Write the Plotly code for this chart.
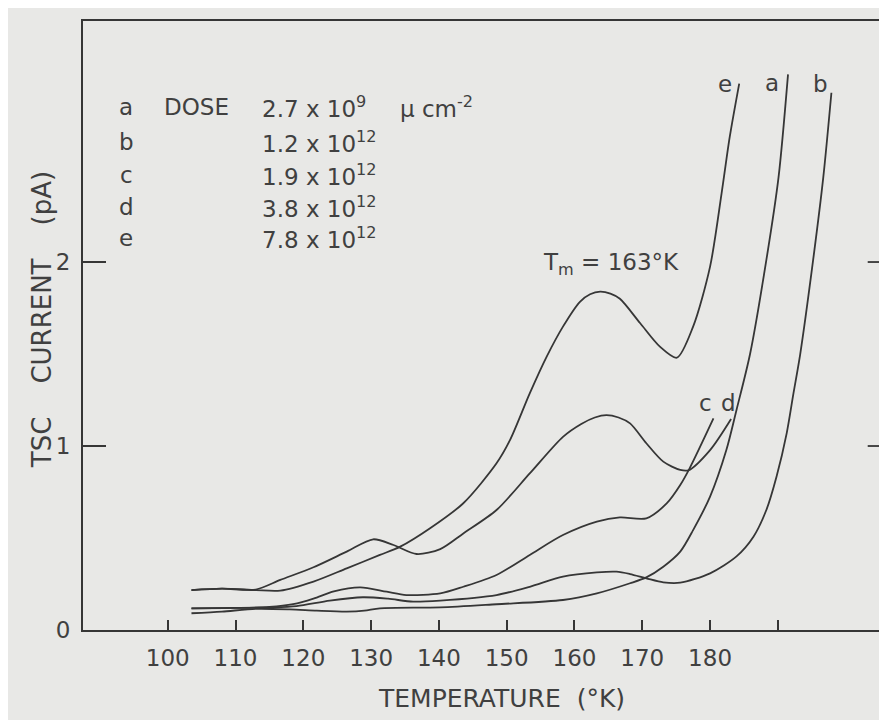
import plotly.graph_objects as go

# ---- data (temperature in K, TSC current in pA) ----
temp_a = [103.5, 108, 113, 118, 122, 126.4, 129, 131.3, 140.2, 148.5, 158.3, 163.3,
          168.2, 170.6, 173.1, 175.6, 177.5, 180, 182.4, 183.9, 185.9, 188.3, 190.1, 191.5]
cur_a = [0.091, 0.100, 0.115, 0.112, 0.105, 0.100, 0.105, 0.118, 0.123, 0.140, 0.163, 0.199,
         0.254, 0.286, 0.344, 0.426, 0.543, 0.725, 0.978, 1.196, 1.500, 2.010, 2.460, 3.020]

temp_b = [103.5, 110, 115, 119, 123.9, 128.8, 132.5, 136.2, 140.2, 148.5, 153.4, 158.3, 163.3,
          166.2, 168.2, 170.6, 173.1, 175.6, 180, 183.9, 186.4, 188.3, 189.8, 191.3, 192.3,
          193.3, 195.2, 196.7, 197.9]
cur_b = [0.118, 0.120, 0.123, 0.130, 0.160, 0.178, 0.170, 0.154, 0.160, 0.190, 0.235, 0.290, 0.313,
         0.317, 0.304, 0.281, 0.259, 0.257, 0.308, 0.400, 0.507, 0.652, 0.833, 1.069, 1.286,
         1.500, 2.010, 2.460, 2.920]

temp_c = [103.5, 110, 115, 118.5, 121.5, 124.5, 128.4, 132.3, 135.2, 140.2, 143.6, 148.5, 153.4,
          158.3, 163.3, 166.7, 170.6, 173.6, 175.6, 177, 180.5]
cur_c = [0.118, 0.120, 0.125, 0.140, 0.170, 0.210, 0.232, 0.208, 0.190, 0.199, 0.235, 0.299, 0.408,
         0.516, 0.589, 0.612, 0.607, 0.688, 0.788, 0.880, 1.150]

temp_d = [103.5, 108, 113, 116.6, 121.5, 126.4, 130.3, 133.3, 136.7, 140.2, 143.6, 148.5, 153.4,
          158.3, 161.0, 163.0, 164.7, 166.5, 168.2, 170.6, 173.1, 175.6, 176.8, 180, 183.1]
cur_d = [0.217, 0.225, 0.220, 0.272, 0.341, 0.426, 0.493, 0.462, 0.413, 0.440, 0.525, 0.652, 0.851,
         1.050, 1.120, 1.155, 1.168, 1.155, 1.123, 1.015, 0.915, 0.870, 0.868, 0.978, 1.147]

temp_e = [103.5, 108, 113, 116.6, 121.5, 126.4, 131.3, 134.3, 138.7, 143.6, 148.5, 150.5, 153.4,
          155.9, 158.3, 160.8, 162.3, 163.8, 165.3, 166.7, 169.7, 172.6, 175.1, 177.5, 180, 181.7,
          182.9, 184.3]
cur_e = [0.217, 0.225, 0.217, 0.214, 0.263, 0.335, 0.408, 0.453, 0.553, 0.689, 0.906, 1.033, 1.286,
         1.486, 1.649, 1.784, 1.825, 1.839, 1.828, 1.800, 1.667, 1.540, 1.480, 1.649, 1.975, 2.373,
         2.680, 2.970]

curve_names = ["a", "b", "c", "d", "e"]
dose_text = ["2.7 x 10<sup>9</sup>", "1.2 x 10<sup>12</sup>", "1.9 x 10<sup>12</sup>",
             "3.8 x 10<sup>12</sup>", "7.8 x 10<sup>12</sup>"]
x_tick_vals = [100, 110, 120, 130, 140, 150, 160, 170, 180, 190]
x_tick_text = ["100", "110", "120", "130", "140", "150", "160", "170", "180", ""]
y_tick_vals = [0, 1, 2]
y_tick_text = ["0", "1", "2"]

BG = "#e8e8e6"
INK = "#363636"
TXT = "#404040"
FONT = "DejaVu Sans"

fig = go.Figure()
for T, I in [(temp_a, cur_a), (temp_b, cur_b), (temp_c, cur_c), (temp_d, cur_d), (temp_e, cur_e)]:
    fig.add_trace(go.Scatter(x=T, y=I, mode="lines",
                             line=dict(color=INK, width=1.8, shape="spline", smoothing=0.8),
                             showlegend=False, hoverinfo="skip"))

ann = []
# dose table
row_y = [2.842, 2.654, 2.473, 2.300, 2.130]
for name, dose, yy in zip(curve_names, dose_text, row_y):
    ann.append(dict(x=93.9, y=yy, xref="x", yref="y", text=name, showarrow=False,
                    xanchor="center", yanchor="middle", font=dict(size=23, color=TXT, family=FONT)))
    ann.append(dict(x=113.6, y=yy, xref="x", yref="y", text=dose, showarrow=False,
                    xanchor="left", yanchor="middle", font=dict(size=23, color=TXT, family=FONT)))
ann.append(dict(x=99.2, y=row_y[0], xref="x", yref="y", text="DOSE", showarrow=False,
                xanchor="left", yanchor="middle", font=dict(size=23, color=TXT, family=FONT)))
ann.append(dict(x=134.0, y=row_y[0], xref="x", yref="y", text="\u03bc cm<sup>-2</sup>", showarrow=False,
                xanchor="left", yanchor="middle", font=dict(size=23, color=TXT, family=FONT)))
# curve labels
for txt, xx, yy in [("e", 182.2, 2.97), ("a", 189.1, 2.975), ("b", 196.3, 2.97),
                    ("c", 179.3, 1.234), ("d", 182.7, 1.234)]:
    ann.append(dict(x=xx, y=yy, xref="x", yref="y", text=txt, showarrow=False,
                    xanchor="center", yanchor="middle", font=dict(size=23, color=TXT, family=FONT)))
ann.append(dict(x=165.4, y=1.99, xref="x", yref="y", text="T<sub>m</sub> = 163\u00b0K", showarrow=False,
                xanchor="center", yanchor="middle", font=dict(size=23, color=TXT, family=FONT)))
# axis titles
ann.append(dict(x=0.52, y=-0.113, xref="paper", yref="paper", text="TEMPERATURE  (\u00b0K)",
                showarrow=False, xanchor="center", yanchor="middle",
                font=dict(size=25, color=TXT, family=FONT)))
ann.append(dict(x=-0.05, y=0.51, xref="paper", yref="paper", text="TSC    CURRENT    (pA)",
                showarrow=False, textangle=-90, xanchor="center", yanchor="middle",
                font=dict(size=26, color=TXT, family=FONT)))

shapes = []
for yy in [1, 2]:
    shapes.append(dict(type="line", xref="paper", yref="y", x0=0.976, x1=1.0, y0=yy, y1=yy,
                       line=dict(color=INK, width=1.8)))

# the page adds an 8 px body margin, so the figure is sized and offset to compensate
fig.update_layout(
    width=879, height=712,
    margin=dict(l=75, r=0, t=13, b=90),
    paper_bgcolor=BG, plot_bgcolor=BG,
    annotations=ann, shapes=shapes,
    xaxis=dict(range=[87.5, 206.1], tickvals=x_tick_vals, ticktext=x_tick_text,
               ticks="inside", ticklen=10, tickwidth=1.6, tickcolor=INK,
               showline=True, linecolor=INK, linewidth=1.8, mirror=True,
               showgrid=False, zeroline=False, ticklabelstandoff=6,
               tickfont=dict(size=23, color=TXT, family=FONT)),
    yaxis=dict(range=[0, 3.31], tickvals=y_tick_vals, ticktext=y_tick_text,
               ticks="inside", ticklen=23, tickwidth=1.8, tickcolor=INK,
               showline=True, linecolor=INK, linewidth=1.8, mirror=False,
               showgrid=False, zeroline=False, ticklabelstandoff=6,
               tickfont=dict(size=23, color=TXT, family=FONT)),
)

fig.write_html("out.html")
